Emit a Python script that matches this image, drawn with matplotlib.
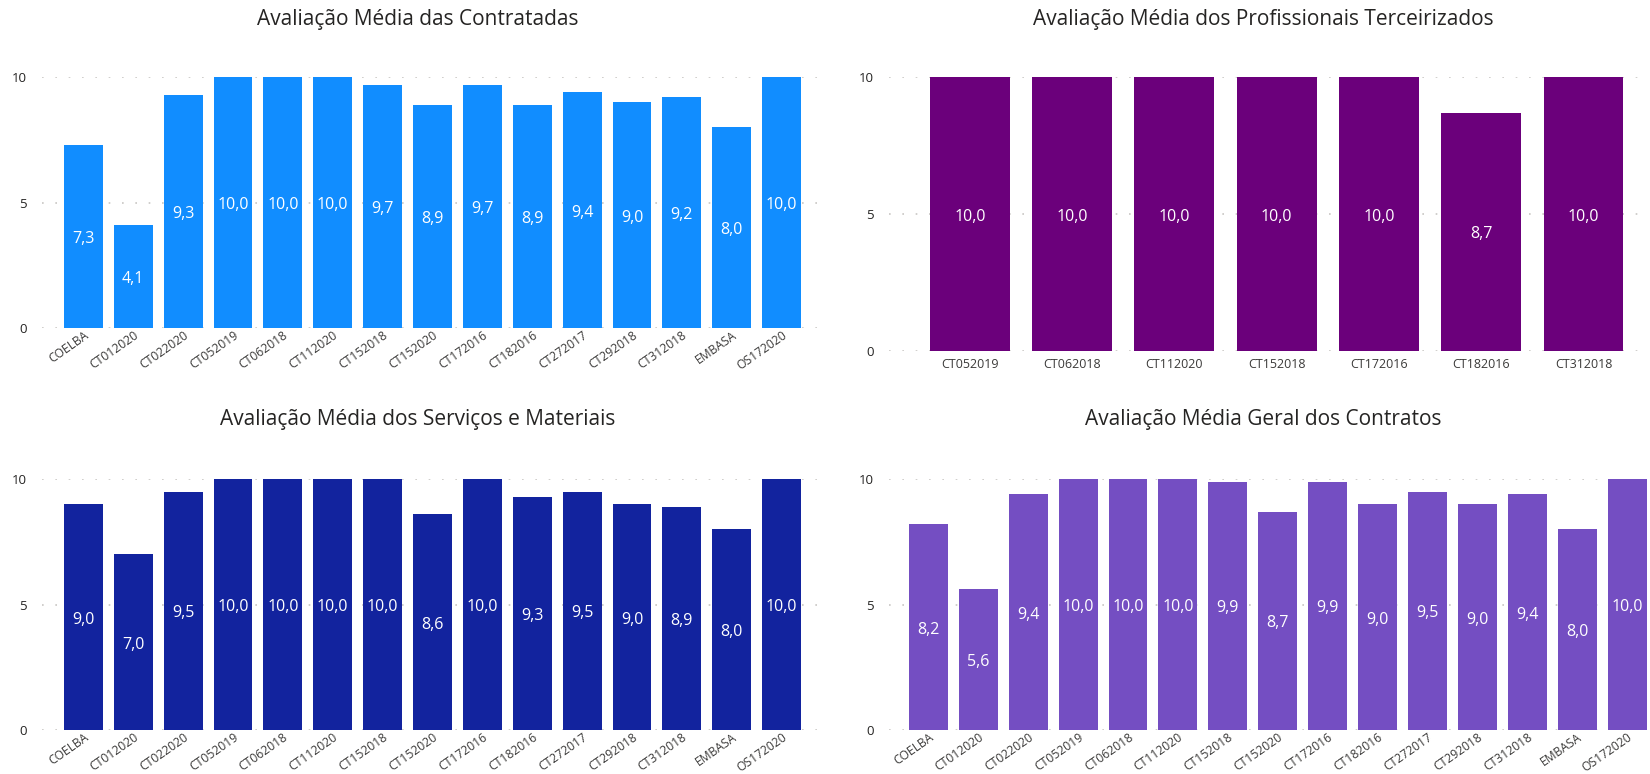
import matplotlib.pyplot as plt
from matplotlib.transforms import ScaledTranslation

# -------------------------------------------------------
# Data
# -------------------------------------------------------
contratos = ["COELBA", "CT012020", "CT022020", "CT052019", "CT062018",
             "CT112020", "CT152018", "CT152020", "CT172016", "CT182016",
             "CT272017", "CT292018", "CT312018", "EMBASA", "OS172020"]

contratadas = [7.3, 4.1, 9.3, 10.0, 10.0, 10.0, 9.7, 8.9, 9.7, 8.9,
               9.4, 9.0, 9.2, 8.0, 10.0]

terc_contratos = ["CT052019", "CT062018", "CT112020", "CT152018",
                  "CT172016", "CT182016", "CT312018"]
terceirizados = [10.0, 10.0, 10.0, 10.0, 10.0, 8.7, 10.0]

servicos = [9.0, 7.0, 9.5, 10.0, 10.0, 10.0, 10.0, 8.6, 10.0, 9.3,
            9.5, 9.0, 8.9, 8.0, 10.0]

geral = [8.2, 5.6, 9.4, 10.0, 10.0, 10.0, 9.9, 8.7, 9.9, 9.0,
         9.5, 9.0, 9.4, 8.0, 10.0]

plt.rcParams["font.family"] = ["Open Sans", "DejaVu Sans"]

W, H = 1650, 774
fig = plt.figure(figsize=(W / 100, H / 100), dpi=100)


def axes_px(x0, x1, ytop, ybot):
    return fig.add_axes([x0 / W, 1 - ybot / H, (x1 - x0) / W, (ybot - ytop) / H])


def painel(ax, cats, vals, cor, titulo, xlim, rot, title_xy):
    xs = range(len(cats))
    ax.set_axisbelow(True)
    ax.yaxis.grid(True, color="#C8C6C4", linestyle=(0, (1, 7)), linewidth=1.2)
    ax.bar(xs, vals, width=0.78, color=cor, edgecolor="none", zorder=2)
    for x, v in zip(xs, vals):
        ax.text(x, v / 2 - 0.1, f"{v:.1f}".replace(".", ","), ha="center",
                va="center", color="white", fontsize=11.5, zorder=3)
    ax.set_xlim(*xlim)
    ax.set_ylim(0, 10)
    ax.set_yticks([0, 5, 10])
    ax.set_yticklabels(["0", "5", "10"], fontsize=9.5, color="#252423")
    ax.set_xticks(list(xs))
    if rot:
        ax.set_xticklabels(cats, rotation=35, ha="right", va="top",
                           rotation_mode="anchor", fontsize=8.7,
                           color="#3B3A39")
        ax.tick_params(axis="x", pad=0.5)
        shift = ScaledTranslation(-5 / 100, 0, fig.dpi_scale_trans)
        for lbl in ax.get_xticklabels():
            lbl.set_transform(lbl.get_transform() + shift)
    else:
        ax.set_xticklabels(cats, fontsize=9, color="#3B3A39")
        ax.tick_params(axis="x", pad=5)
    ax.tick_params(axis="both", length=0)
    ax.tick_params(axis="y", pad=11)
    for s in ax.spines.values():
        s.set_visible(False)
    ax.patch.set_alpha(0)
    fig.text(title_xy[0] / W, 1 - title_xy[1] / H, titulo, ha="center",
             va="center", fontsize=15, color="#252423")


ax1 = axes_px(42, 818, 77, 328)
painel(ax1, contratos, contratadas, "#118DFF",
       "Avaliação Média das Contratadas", (-0.83, 14.73), True, (418, 19))

ax2 = axes_px(889, 1648, 77, 350.7)
painel(ax2, terc_contratos, terceirizados, "#6B007B",
       "Avaliação Média dos Profissionais Terceirizados", (-0.79, 6.63),
       False, (1263, 19))

ax3 = axes_px(42, 818, 479, 730)
painel(ax3, contratos, servicos, "#12239E",
       "Avaliação Média dos Serviços e Materiais", (-0.83, 14.73), True,
       (418, 419))

ax4 = axes_px(889, 1648, 479, 730)
painel(ax4, contratos, geral, "#744EC2",
       "Avaliação Média Geral dos Contratos", (-0.79, 14.42), True,
       (1263, 419))

fig.savefig("out.png", dpi=100, facecolor="white")
